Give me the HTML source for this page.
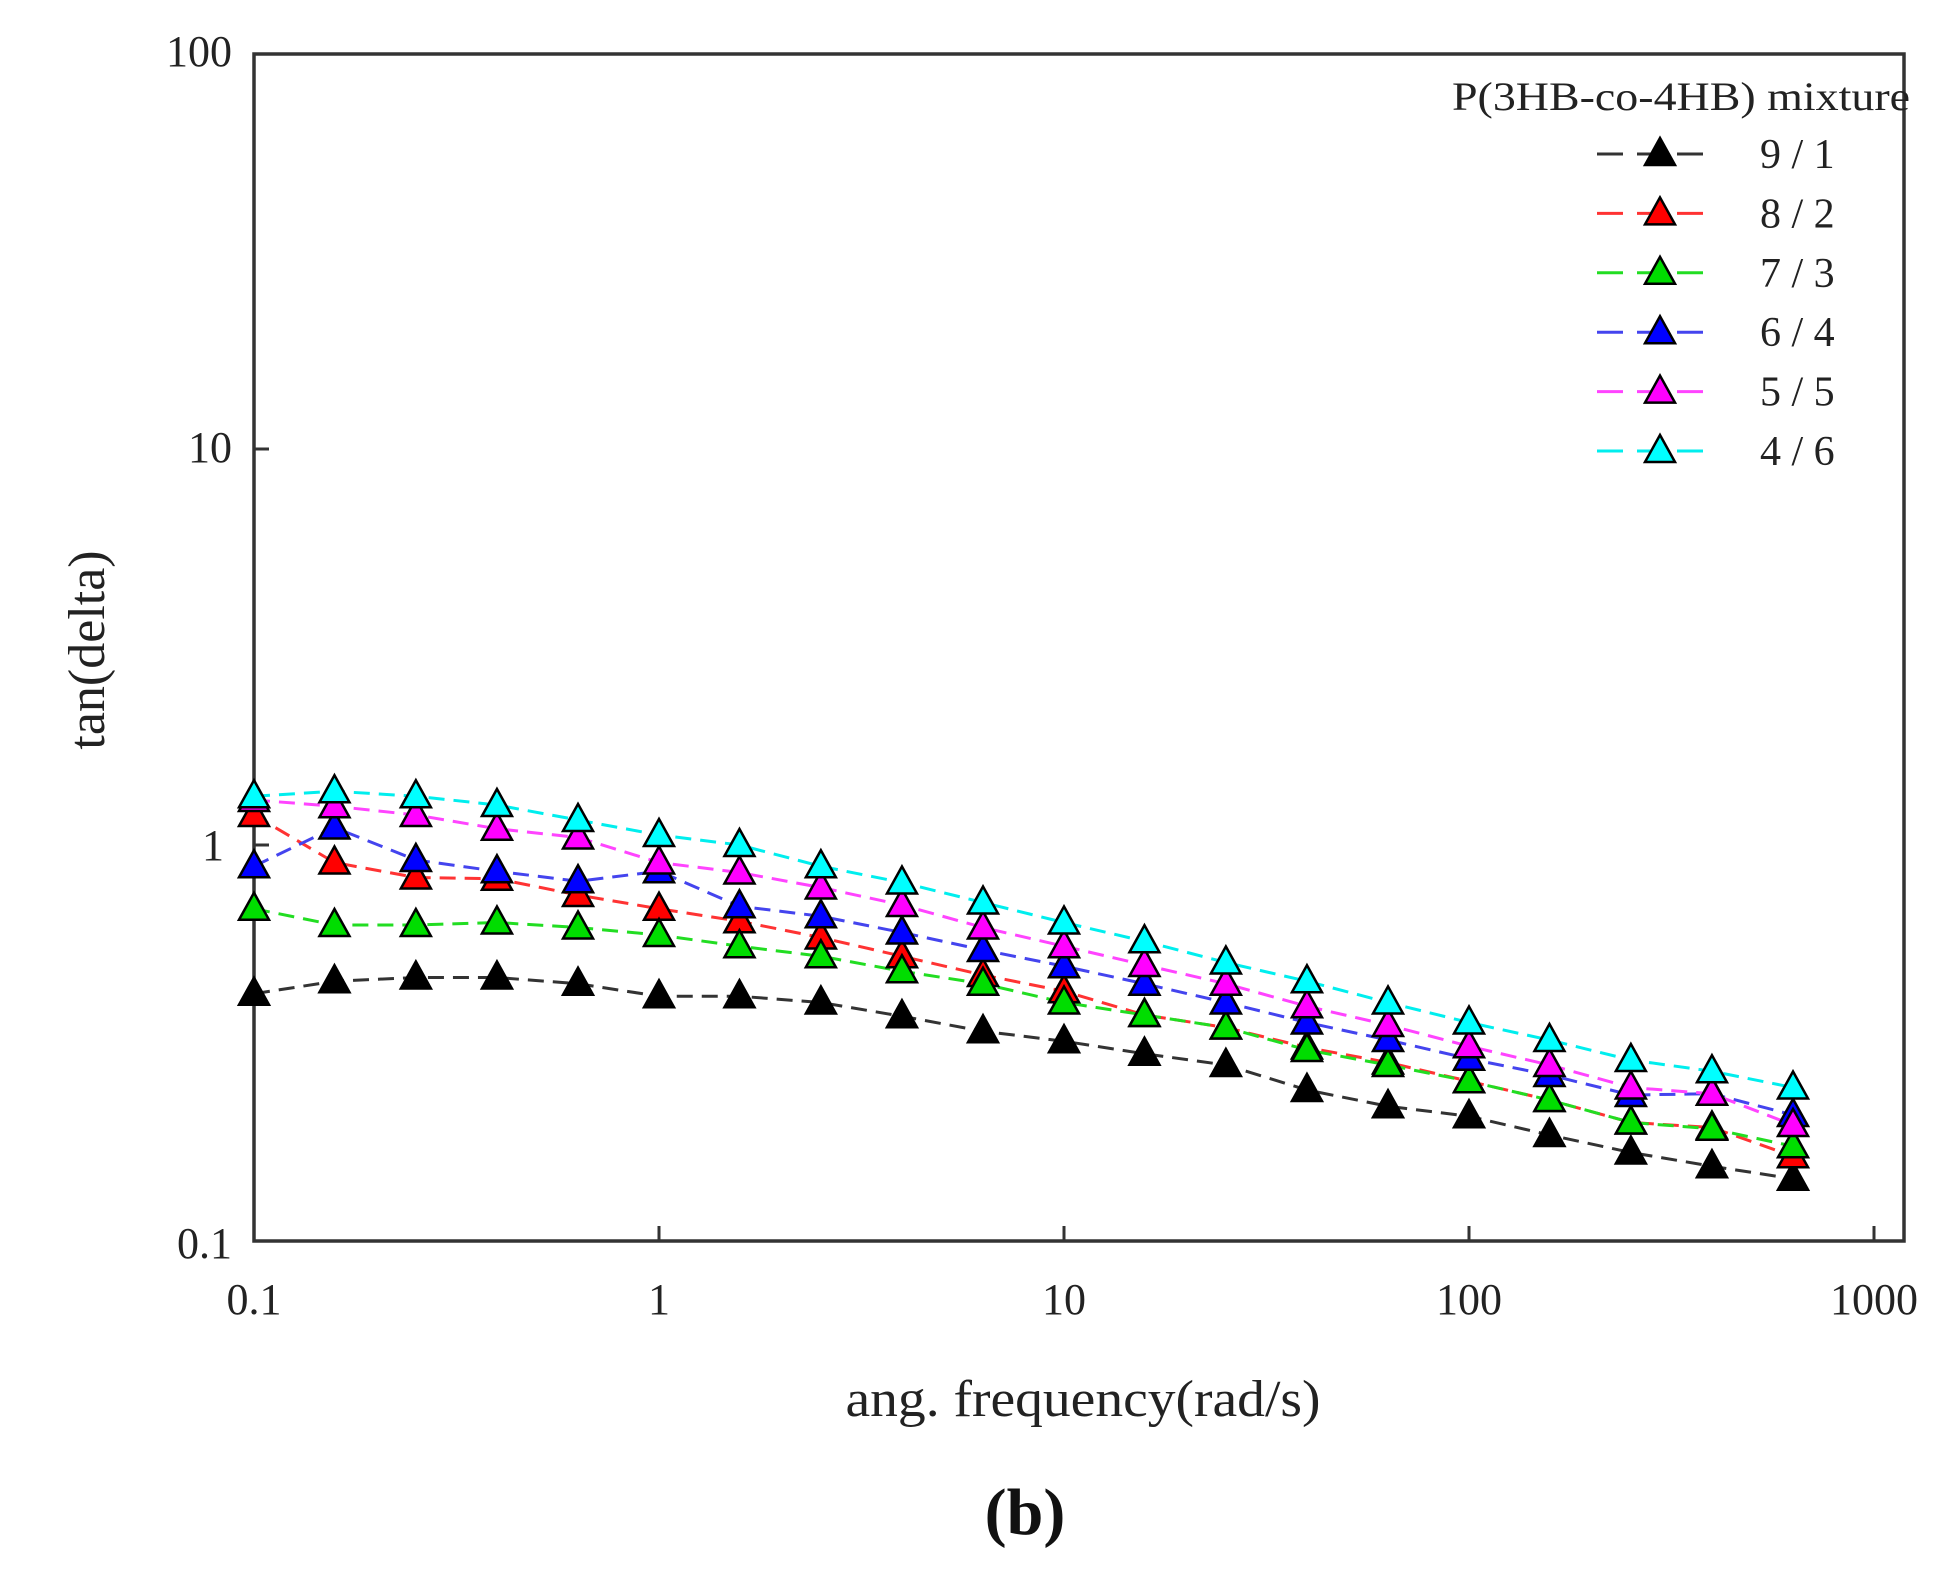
<!DOCTYPE html>
<html><head><style>body{margin:0;background:#fff}</style></head><body>
<svg id="s" width="1950" height="1565" xmlns="http://www.w3.org/2000/svg" font-family="'Liberation Serif',serif">
<rect width="1950" height="1565" fill="#fff"/>
<rect x="254" y="54" width="1650" height="1187" fill="none" stroke="#333" stroke-width="3.5"/>
<g stroke="#333" stroke-width="3">
<line x1="659" y1="1241" x2="659" y2="1226"/><line x1="1064" y1="1241" x2="1064" y2="1226"/><line x1="1469" y1="1241" x2="1469" y2="1226"/><line x1="1874" y1="1241" x2="1874" y2="1226"/>
<line x1="254" y1="845" x2="269" y2="845"/><line x1="254" y1="449" x2="269" y2="449"/>
</g>
<g font-size="44" fill="#222" text-anchor="end">
<text x="232" y="66">100</text><text x="232" y="462">10</text><text x="224" y="860">1</text><text x="232" y="1258">0.1</text>
</g>
<g font-size="44" fill="#222" text-anchor="middle">
<text x="254" y="1314">0.1</text><text x="659" y="1314">1</text><text x="1064" y="1314">10</text><text x="1469" y="1314">100</text><text x="1874" y="1314">1000</text>
</g>
<text x="1083" y="1416" font-size="52" text-anchor="middle" fill="#222" textLength="475" lengthAdjust="spacingAndGlyphs">ang. frequency(rad/s)</text>
<text transform="translate(104,650) rotate(-90)" font-size="52" text-anchor="middle" fill="#222">tan(delta)</text>
<text x="1025" y="1534" font-size="66" font-weight="bold" text-anchor="middle" fill="#111">(b)</text>
<text x="1452" y="110" font-size="40" fill="#222" textLength="458" lengthAdjust="spacingAndGlyphs">P(3HB-co-4HB) mixture</text>
<g id="g"></g>
</svg>
<script>
var xs=[0.1,0.158,0.251,0.398,0.631,1,1.58,2.51,3.98,6.31,10,15.8,25.1,39.8,63.1,100,158,251,398,631];
var S=[
["#000",[795,785,782,782,787,797,797,802,813,825,833,843,852,872,885,893,908,922,933,943],"9 / 1"],
["#f00",[652,690,702,703,716,727,737,750,765,780,793,812,822,838,850,865,880,898,902,925],"8 / 2"],
["#0d0",[727,740,740,738,742,748,757,765,777,787,802,812,822,840,852,865,880,898,903,917],"7 / 3"],
["#00f",[693,662,688,697,705,697,725,733,746,760,773,787,802,818,832,847,860,876,875,892],"6 / 4"],
["#f0f",[640,645,652,663,670,690,698,710,724,742,757,772,787,805,820,837,852,870,875,900],"5 / 5"],
["#0ff",[637,633,637,644,656,668,676,693,706,722,738,753,770,785,802,818,832,848,857,870],"4 / 6"]];
var lc=["#333","#f33","#2d2","#44e","#f4f","#0ee"];
var h="";
function tri(x,y,c){return '<polygon points="'+x+','+(y-16)+' '+(x-15)+','+(y+11)+' '+(x+15)+','+(y+11)+'" fill="'+c+'" stroke="#000" stroke-width="2.5"/>';}
S.forEach(function(s,i){
 var p=s[1].map(function(v,j){return [254+405*(Math.log10(xs[j])+1),v*1.25];});
 h+='<polyline points="'+p.map(function(q){return q.join(",")}).join(" ")+'" fill="none" stroke="'+lc[i]+'" stroke-width="3" stroke-dasharray="16,9"/>';
 var ly=154+59.4*i;
 h+='<line x1="1597" y1="'+ly+'" x2="1712" y2="'+ly+'" stroke="'+lc[i]+'" stroke-width="3" stroke-dasharray="26,14"/>';
 h+=tri(1660,ly,s[0]);
 h+='<text x="1760" y="'+(ly+14)+'" font-size="42" fill="#222">'+s[2]+'</text>';
});
S.forEach(function(s){s[1].forEach(function(v,j){h+=tri(254+405*(Math.log10(xs[j])+1),v*1.25,s[0]);});});
document.getElementById("g").innerHTML=h;
</script>
</body></html>
